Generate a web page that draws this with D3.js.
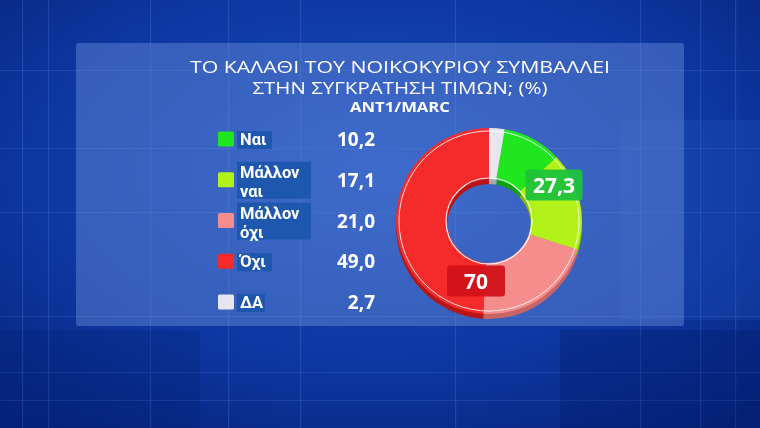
<!DOCTYPE html>
<html><head><meta charset="utf-8">
<script src="https://cdn.jsdelivr.net/npm/d3@7/dist/d3.min.js"></script>
<style>html,body{margin:0;padding:0;background:#0a2f92;overflow:hidden}</style>
</head><body>
<svg id="c" width="760" height="428"></svg>
<script>
const categories = ["Ναι", "Μάλλον ναι", "Μάλλον όχι", "Όχι", "ΔΑ"];
const labelLines = [["Ναι"], ["Μάλλον", "ναι"], ["Μάλλον", "όχι"], ["Όχι"], ["ΔΑ"]];
const values = [10.2, 17.1, 21.0, 49.0, 2.7];
const valueLabels = ["10,2", "17,1", "21,0", "49,0", "2,7"];
const colors = ["#1fe61f", "#b2f218", "#f58d8d", "#f52b2b", "#e6e6ee"];
const sideColors = ["#149e14", "#84b80e", "#c86464", "#b81616", "#a8a8b4"];
const groupLabels = ["27,3", "70"];
const titleLines = ["ΤΟ ΚΑΛΑΘΙ ΤΟΥ ΝΟΙΚΟΚΥΡΙΟΥ ΣΥΜΒΑΛΛΕΙ", "ΣΤΗΝ ΣΥΓΚΡΑΤΗΣΗ ΤΙΜΩΝ; (%)"];
const subtitle = "ANT1/MARC";

const svg = d3.select("#c");
const defs = svg.append("defs");
const bg = defs.append("radialGradient").attr("id","bg").attr("cx","50%").attr("cy","40%").attr("r","75%");
bg.append("stop").attr("offset","0%").attr("stop-color","#1a4ec0");
bg.append("stop").attr("offset","60%").attr("stop-color","#0d37a2");
bg.append("stop").attr("offset","100%").attr("stop-color","#06247a");
svg.append("rect").attr("width",760).attr("height",428).attr("fill","url(#bg)");

// decorative background grid
const deco = svg.append("g").attr("opacity",0.9);
[22, 48, 150, 228, 300, 455, 640, 700, 735].forEach(x => deco.append("rect").attr("x",x).attr("y",0).attr("width",1.2).attr("height",428).attr("fill","#4f7ad6").attr("opacity",0.35));
[70, 148, 212, 316, 372, 400].forEach(y => deco.append("rect").attr("x",0).attr("y",y).attr("width",760).attr("height",1).attr("fill","#4f7ad6").attr("opacity",0.3));
deco.append("rect").attr("x",620).attr("y",120).attr("width",140).attr("height",200).attr("fill","#2a5fc8").attr("opacity",0.25);
deco.append("rect").attr("x",560).attr("y",330).attr("width",200).attr("height",98).attr("fill","#041d66").attr("opacity",0.35);
deco.append("rect").attr("x",0).attr("y",330).attr("width",200).attr("height",98).attr("fill","#051f70").attr("opacity",0.25);

// panel
svg.append("rect").attr("x",76).attr("y",43).attr("width",608).attr("height",283).attr("rx",3)
  .attr("fill","#6f93dc").attr("opacity",0.42);

// titles
const tg = svg.append("g").attr("fill","#ffffff").attr("text-anchor","middle");
tg.append("text").attr("x",400).attr("y",73).attr("font-family","'Open Sans', sans-serif").attr("font-size",17)
  .attr("textLength",420).attr("lengthAdjust","spacingAndGlyphs").text(titleLines[0]);
tg.append("text").attr("x",400).attr("y",94).attr("font-family","'Open Sans', sans-serif").attr("font-size",17)
  .attr("textLength",295).attr("lengthAdjust","spacingAndGlyphs").text(titleLines[1]);
tg.append("text").attr("x",400).attr("y",112).attr("font-family","'Open Sans', sans-serif").attr("font-weight",700).attr("font-size",13.5)
  .attr("textLength",100).attr("lengthAdjust","spacingAndGlyphs").text(subtitle);

// legend
const rowY = d3.scalePoint().domain(categories).range([139, 302]);
const lg = svg.append("g");
categories.forEach((c, i) => {
  const y = rowY(c);
  const lines = labelLines[i];
  lg.append("rect").attr("x",218).attr("y",y-7.5).attr("width",16).attr("height",15).attr("rx",1.5).attr("fill",colors[i]);
  const lh = 19;
  const two = lines.length > 1;
  const top = two ? y - 18 : y - 8;
  const h = two ? 37 : 18;
  const w = two ? 74 : (c === "ΔΑ" ? 28 : 35);
  lg.append("rect").attr("x",237).attr("y",top).attr("width",w).attr("height",h).attr("fill","#1c55ab").attr("opacity",0.9);
  lines.forEach((t, k) => {
    lg.append("text").attr("x",240).attr("y",(two ? y - 2 : y + 6) + k*lh).attr("fill","#fff")
      .attr("font-family","Roboto, sans-serif").attr("font-weight",700).attr("font-size",16.5).text(t);
  });
  lg.append("text").attr("x",375).attr("y",y+7).attr("text-anchor","end").attr("fill","#fff")
    .attr("font-family","'Open Sans', sans-serif").attr("font-weight",700).attr("font-size",19).text(valueLabels[i]);
});

// donut
const cx = 489, cy = 221, rO = 93, rI = 42;
const start = values[4] / 100 * 2 * Math.PI;
const pie = d3.pie().sort(null).value(d => d).startAngle(start).endAngle(start + 2*Math.PI);
const arcs = pie(values);
const arc = d3.arc().innerRadius(rI).outerRadius(rO);
const side = svg.append("g").attr("transform",`translate(${cx},${cy+5})`);
side.selectAll("path").data(arcs).join("path").attr("d",arc).attr("fill",(d,i)=>sideColors[i]);
const face = svg.append("g").attr("transform",`translate(${cx},${cy})`);
face.selectAll("path").data(arcs).join("path").attr("d",arc).attr("fill",(d,i)=>colors[i]);
face.append("circle").attr("r",rO-3).attr("fill","none").attr("stroke","#fff").attr("stroke-width",1).attr("opacity",0.85);
face.append("circle").attr("r",rI+1).attr("fill","none").attr("stroke","#fff").attr("stroke-width",1.2).attr("opacity",0.9);

// group labels
const lab = svg.append("g").attr("font-family","'Open Sans', sans-serif").attr("font-weight",700);
const gl = [{t:groupLabels[0], x:554, y:185, w:57, fill:"#1fc23a"}, {t:groupLabels[1], x:476, y:281, w:58, fill:"#d2121a"}];
gl.forEach(g => {
  lab.append("rect").attr("x",g.x-g.w/2).attr("y",g.y-15.5).attr("width",g.w).attr("height",31).attr("rx",3).attr("fill",g.fill).attr("opacity",0.95);
  lab.append("text").attr("x",g.x).attr("y",g.y+7.5).attr("text-anchor","middle").attr("fill","#fff").attr("font-size",21).text(g.t);
});
</script>
</body></html>
